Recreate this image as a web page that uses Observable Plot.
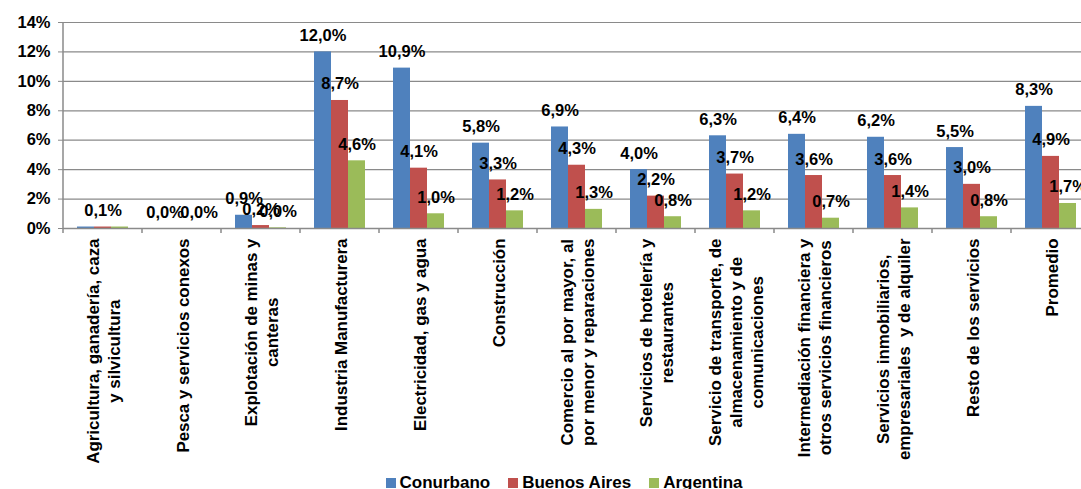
<!DOCTYPE html>
<html><head><meta charset="utf-8">
<script src="https://cdn.jsdelivr.net/npm/d3@7"></script>
<script src="https://cdn.jsdelivr.net/npm/@observablehq/plot@0.6"></script>
<style>
html,body{margin:0;padding:0;overflow:hidden;background:#fff;}
#chart{width:1095px;}
</style></head><body><div id="chart"></div>
<script>
const categories = [
  "Agricultura, ganadería, caza\ny silvicultura",
  "Pesca y servicios conexos",
  "Explotación de minas y\ncanteras",
  "Industria Manufacturera",
  "Electricidad, gas y agua",
  "Construcción",
  "Comercio al por mayor, al\npor menor y reparaciones",
  "Servicios de hotelería y\nrestaurantes",
  "Servicio de transporte, de\nalmacenamiento y de\ncomunicaciones",
  "Intermediación financiera y\notros servicios financieros",
  "Servicios inmobiliarios,\nempresariales  y de alquiler",
  "Resto de los servicios",
  "Promedio"
];
const series = ["Conurbano", "Buenos Aires", "Argentina"];
const colors = ["#4F81BD", "#C0504D", "#9BBB59"];
const conurbano   = [0.1, 0.0, 0.9, 12.0, 10.9, 5.8, 6.9, 4.0, 6.3, 6.4, 6.2, 5.5, 8.3];
const buenosAires = [0.1, 0.0, 0.2, 8.7, 4.1, 3.3, 4.3, 2.2, 3.7, 3.6, 3.6, 3.0, 4.9];
const argentina   = [0.1, 0.0, 0.045, 4.6, 1.0, 1.2, 1.3, 0.8, 1.2, 0.7, 1.4, 0.8, 1.7];
const yTicks = [0, 2, 4, 6, 8, 10, 12, 14];
// data labels not displayed in the original
const hiddenLabels = [[0, "Conurbano"], [0, "Argentina"], [1, "Buenos Aires"]];

const valuesBySeries = [conurbano, buenosAires, argentina];
const data = categories.flatMap((c, i) => series.map((s, j) => ({
  cat: c, series: s, value: valuesBySeries[j][i],
  showLabel: !hiddenLabels.some(([hi, hs]) => hi === i && hs === s)
})));
const fmt = v => v.toFixed(1).replace(".", ",") + "%";
const FONT = '"Liberation Sans", Arial, sans-serif';
const FS = 16.5;
const GRAY = "#8a8a8a";

const chart = Plot.plot({
  width: 1095, height: 474,
  marginLeft: 59, marginRight: 2, marginTop: 22, marginBottom: 246,
  style: {fontFamily: FONT, fontSize: FS + "px", fontWeight: "bold", color: "black", background: "white", overflow: "visible"},
  fx: {domain: categories, padding: 0, label: null},
  x: {domain: series, paddingInner: 0, paddingOuter: 0.72, axis: null},
  y: {domain: [0, 14], ticks: yTicks, label: null},
  color: {domain: series, range: colors},
  marks: [
    Plot.gridY(yTicks, {stroke: GRAY, strokeOpacity: 1, strokeWidth: 1.2}),
    Plot.barY(data, {fx: "cat", x: "series", y: "value", fill: "series"}),
    Plot.ruleY([0], {stroke: GRAY, strokeWidth: 1.5}),
    Plot.text(data.filter(d => d.showLabel), {fx: "cat", x: "series", y: "value", text: d => fmt(d.value), lineAnchor: "bottom", dy: -11, fill: "black"}),
    Plot.axisY(yTicks, {tickSize: 5, tickPadding: 8, tickFormat: d => d + "%", stroke: GRAY, fill: "black"}),
    Plot.axisFx({anchor: "bottom", tickSize: 0, tickPadding: 10, tickRotate: -90, label: null, lineHeight: 1.24, fontSize: 16.9, fill: "black"})
  ]
});
document.getElementById("chart").appendChild(chart);

// post-process: axis lines, boundary ticks, centred multi-line category labels
const svg = d3.select(chart);
const fx = chart.scale("fx");
const y = chart.scale("y");
const starts = categories.map(c => fx.apply(c));
const bounds = starts.concat([starts[starts.length - 1] + fx.bandwidth]);
const y0 = y.apply(0), yTop = y.apply(14);
const g = svg.append("g").attr("stroke", GRAY).attr("stroke-width", 1.5);
g.append("line").attr("x1", bounds[0]).attr("x2", bounds[0]).attr("y1", yTop).attr("y2", y0);
bounds.forEach(b => g.append("line").attr("x1", b).attr("x2", b).attr("y1", y0).attr("y2", y0 + 5));

svg.selectAll('g[aria-label="fx-axis tick label"] text').each(function() {
  const spans = d3.select(this).selectAll("tspan");
  if (spans.size() < 2) return;
  let maxLen = 0;
  spans.each(function() { maxLen = Math.max(maxLen, this.getComputedTextLength()); });
  d3.select(this).attr("text-anchor", "middle");
  spans.attr("x", -maxLen / 2);
});

const legend = chart.legend("color", {swatchSize: 10});
const lg = d3.select(legend);
lg.style("display", "flex").style("justify-content", "center").style("align-items", "center")
  .style("min-height", "0").style("height", "17px").style("margin", "0").style("width", "1146px")
  .style("font-family", FONT).style("font-size", "17px").style("font-weight", "bold")
  .style("line-height", "17px").style("color", "black");
lg.selectAll("span").style("margin-right", "18px").style("display", "inline-flex").style("align-items", "center");
lg.selectAll("span svg").style("margin-right", "4px");
document.getElementById("chart").appendChild(legend);
</script></body></html>
